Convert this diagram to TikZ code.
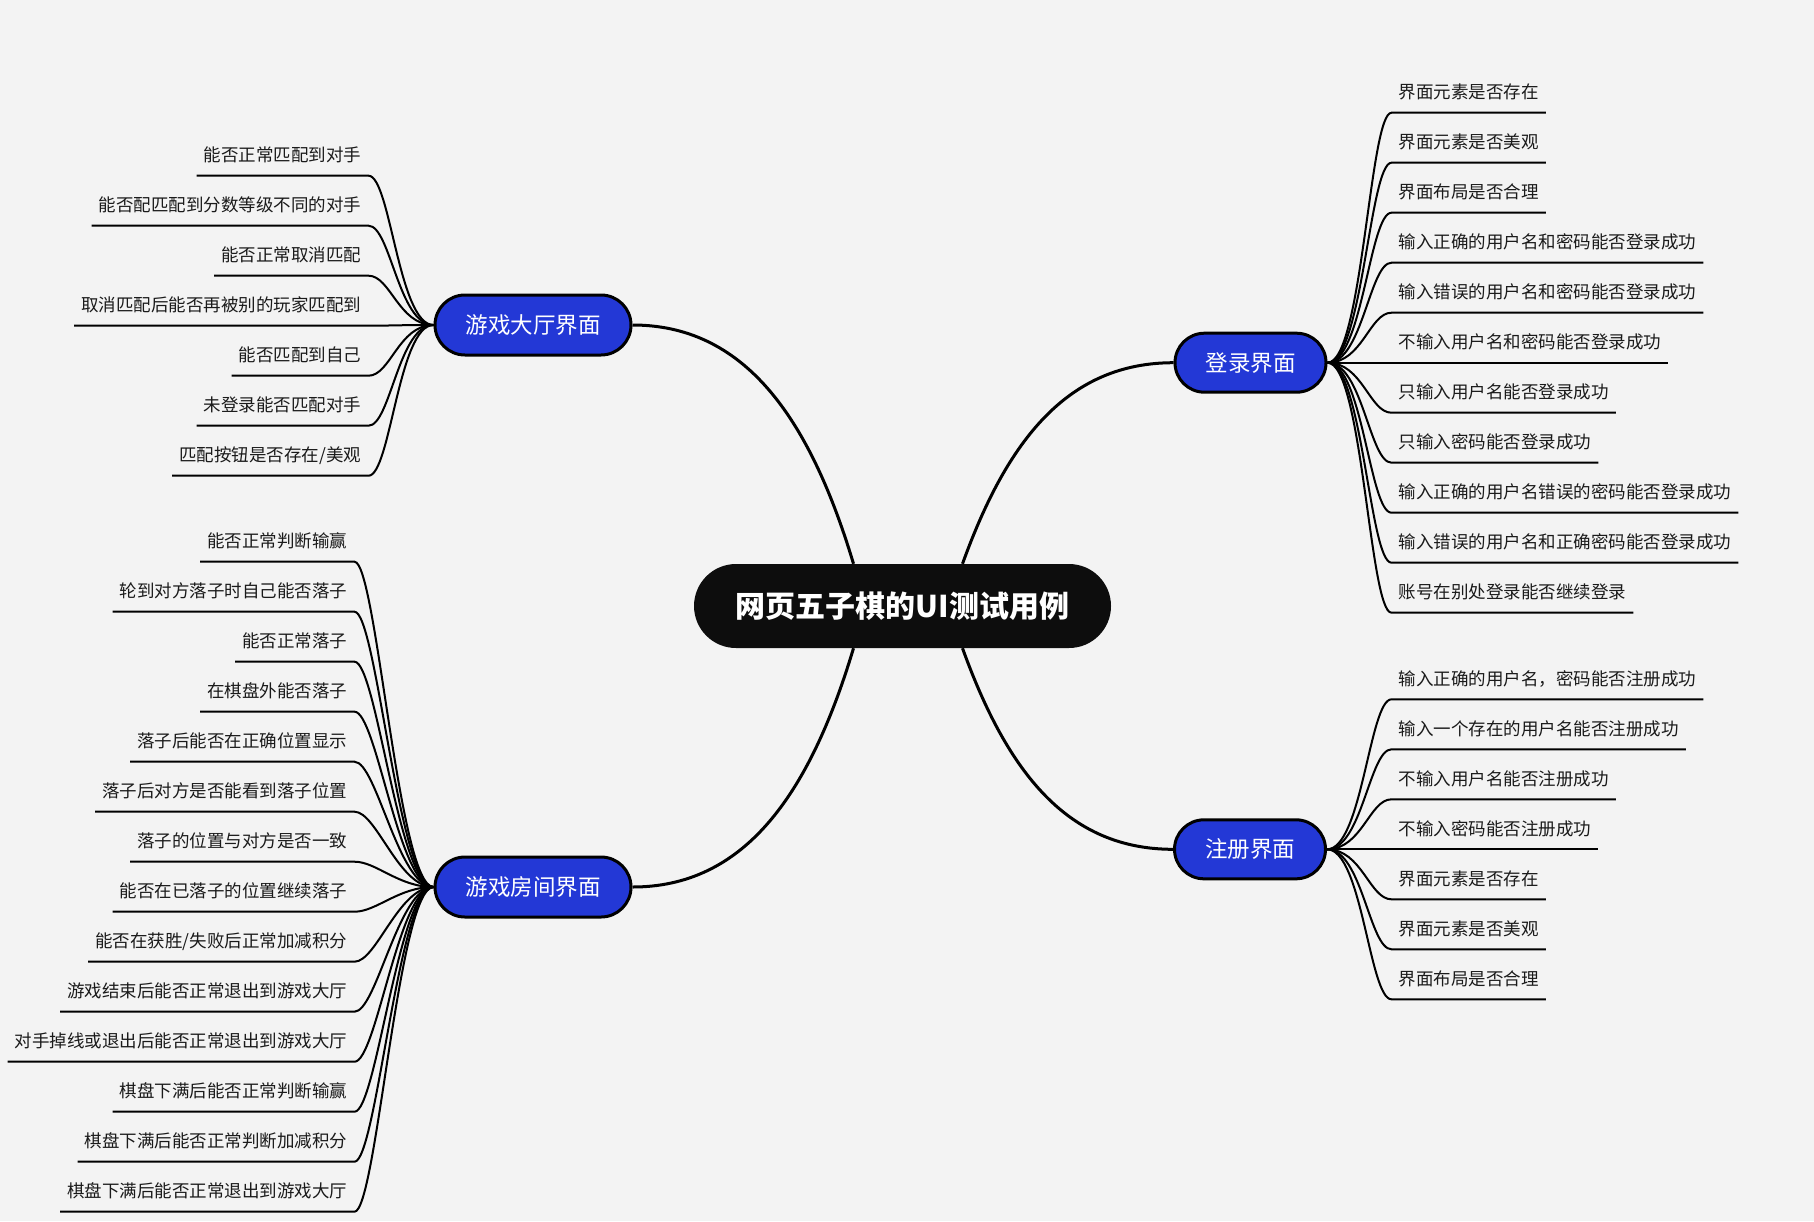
\documentclass[tikz,border=0pt]{standalone}
\usepackage{fontspec}
\setmainfont{Noto Sans CJK SC}
\definecolor{bgc}{HTML}{F3F3F3}
\definecolor{topicblue}{HTML}{2338D6}
\definecolor{rootc}{HTML}{0D0D0D}
\definecolor{labelc}{HTML}{1A1A1A}
\begin{document}
\begin{tikzpicture}[x=1pt,y=-1pt,
  rootbox/.style={fill=rootc, rounded corners=42pt, minimum width=417pt, minimum height=84pt, inner sep=0pt, text=white, font=\fontsize{30}{36}\selectfont\bfseries},
  topic/.style={draw=black, line width=3pt, fill=topicblue, rounded corners=30pt, minimum width=196pt, minimum height=60pt, inner sep=0pt, text=white, font=\fontsize{22.5}{27}\selectfont},
  topicsmall/.style={topic, minimum width=151pt, minimum height=59pt, rounded corners=29.5pt},
  leaf/.style={font=\fontsize{17.5}{21}\selectfont, text=labelc, inner xsep=7pt, inner ysep=0pt, text height=14pt, text depth=14pt},
  link/.style={draw=black, line width=2pt},
  mainlink/.style={draw=black, line width=3pt}]
\fill[bgc] (0,0) rectangle (1814,1221);
\useasboundingbox (0,0) rectangle (1814,1221);

\node[rootbox] (rootn) at (902.5,606) {网页五子棋的UI测试用例};
\node[topic] (lobby) at (533,325) {游戏大厅界面};
\node[topic] (room) at (533,887) {游戏房间界面};
\node[topicsmall] (login) at (1250.5,362.7) {登录界面};
\node[topicsmall] (reg) at (1250,849.3) {注册界面};

\draw[mainlink] (lobby.east) .. controls +(110,0) and +(-45,-150) .. ([xshift=-49pt]rootn.north);
\draw[mainlink] (room.east) .. controls +(110,0) and +(-45,150) .. ([xshift=-49pt]rootn.south);
\draw[mainlink] (login.west) .. controls +(-105,0) and +(45,-125) .. ([xshift=60pt]rootn.north);
\draw[mainlink] (reg.west) .. controls +(-105,0) and +(45,125) .. ([xshift=60pt]rootn.south);

\foreach \t [count=\i from 0] in {能否正常匹配到对手, 能否配匹配到分数等级不同的对手, 能否正常取消匹配, 取消匹配后能否再被别的玩家匹配到, 能否匹配到自己, 未登录能否匹配对手, 匹配按钮是否存在/美观} {
  \node[leaf, anchor=south east] (lob\i) at (368.5,{175.7+50*\i}) {\t};
  \draw[link] (lobby.west) .. controls +(-35,0) and +(22,0) .. (lob\i.south east) -- (lob\i.south west);
}

\foreach \t [count=\i from 0] in {能否正常判断输赢, 轮到对方落子时自己能否落子, 能否正常落子, 在棋盘外能否落子, 落子后能否在正确位置显示, 落子后对方是否能看到落子位置, 落子的位置与对方是否一致, 能否在已落子的位置继续落子, 能否在获胜/失败后正常加减积分, 游戏结束后能否正常退出到游戏大厅, 对手掉线或退出后能否正常退出到游戏大厅, 棋盘下满后能否正常判断输赢, 棋盘下满后能否正常判断加减积分, 棋盘下满后能否正常退出到游戏大厅} {
  \node[leaf, anchor=south east] (rm\i) at (354.5,{561.7+50*\i}) {\t};
  \draw[link] (room.west) .. controls +(-35,0) and +(22,0) .. (rm\i.south east) -- (rm\i.south west);
}

\foreach \t [count=\i from 0] in {界面元素是否存在, 界面元素是否美观, 界面布局是否合理, 输入正确的用户名和密码能否登录成功, 输入错误的用户名和密码能否登录成功, 不输入用户名和密码能否登录成功, 只输入用户名能否登录成功, 只输入密码能否登录成功, 输入正确的用户名错误的密码能否登录成功, 输入错误的用户名和正确密码能否登录成功, 账号在别处登录能否继续登录} {
  \node[leaf, anchor=south west] (lg\i) at (1391.5,{112.7+50*\i}) {\t};
  \draw[link] (login.east) .. controls +(35,0) and +(-22,0) .. (lg\i.south west) -- (lg\i.south east);
}

\foreach \t [count=\i from 0] in {输入正确的用户名，密码能否注册成功, 输入一个存在的用户名能否注册成功, 不输入用户名能否注册成功, 不输入密码能否注册成功, 界面元素是否存在, 界面元素是否美观, 界面布局是否合理} {
  \node[leaf, anchor=south west] (rg\i) at (1391.5,{699.3+50*\i}) {\t};
  \draw[link] (reg.east) .. controls +(35,0) and +(-22,0) .. (rg\i.south west) -- (rg\i.south east);
}
\end{tikzpicture}
\end{document}
